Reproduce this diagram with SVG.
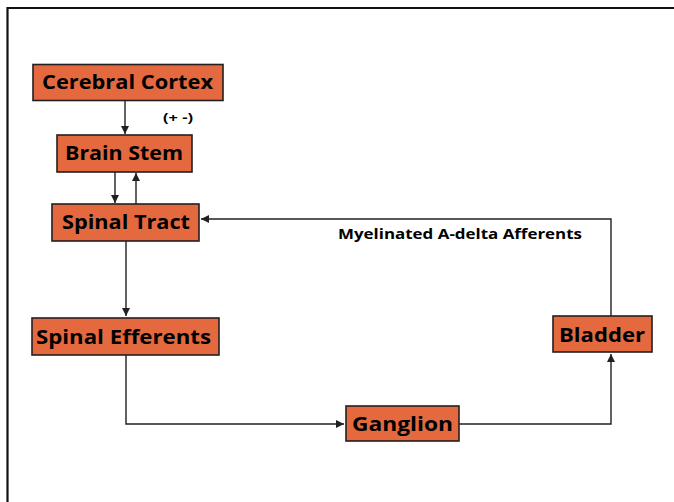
<svg xmlns="http://www.w3.org/2000/svg" width="674" height="502" viewBox="0 0 674 502">
<defs>
<style>
.box{fill:#E5693F;stroke:#231F20;stroke-width:1.6}
.lbl{font-family:"Open Sans","Noto Sans","Liberation Sans",sans-serif;font-weight:bold;fill:#000;font-size:20px}
.small{font-family:"Open Sans","Noto Sans","Liberation Sans",sans-serif;font-weight:bold;fill:#000}
.con{fill:none;stroke:#231F20;stroke-width:1.4}
</style>
<marker id="ah" viewBox="0 0 10 10" refX="10" refY="5" markerWidth="8" markerHeight="8" markerUnits="userSpaceOnUse" orient="auto">
<path d="M0,0 L10,5 L0,10 Z" fill="#231F20"/>
</marker>
</defs>
<rect width="674" height="502" fill="#fff"/>
<path d="M7.5,502 V8 H674" fill="none" stroke="#111" stroke-width="2.2"/>
<g id="connectors">
<path class="con" d="M125,100.5 V134" marker-end="url(#ah)"/>
<path class="con" d="M115,172 V203" marker-end="url(#ah)"/>
<path class="con" d="M136,204 V173" marker-end="url(#ah)"/>
<path class="con" d="M126,241 V316" marker-end="url(#ah)"/>
<path class="con" d="M126,355 V424 H344" marker-end="url(#ah)"/>
<path class="con" d="M459,424 H611 V354" marker-end="url(#ah)"/>
<path class="con" d="M611,316 V219 H201" marker-end="url(#ah)"/>
<text class="small" x="163" y="122" font-size="13" textLength="30" lengthAdjust="spacingAndGlyphs">(+ -)</text>
<text class="small" x="338" y="239" font-size="15" textLength="244" lengthAdjust="spacingAndGlyphs">Myelinated A-delta Afferents</text>
</g>
<g id="cerebral-cortex">
<rect class="box" x="33" y="64.5" width="190" height="36"/>
<text class="lbl" x="42" y="89" textLength="171" lengthAdjust="spacingAndGlyphs">Cerebral Cortex</text>
</g>
<g id="brain-stem">
<rect class="box" x="57" y="135" width="135" height="37"/>
<text class="lbl" x="65" y="160" textLength="118" lengthAdjust="spacingAndGlyphs">Brain Stem</text>
</g>
<g id="spinal-tract">
<rect class="box" x="52" y="204" width="147" height="37"/>
<text class="lbl" x="62" y="229" textLength="128" lengthAdjust="spacingAndGlyphs">Spinal Tract</text>
</g>
<g id="spinal-efferents">
<rect class="box" x="32" y="318" width="187" height="37"/>
<text class="lbl" x="36" y="344" textLength="175" lengthAdjust="spacingAndGlyphs">Spinal Efferents</text>
</g>
<g id="ganglion">
<rect class="box" x="346" y="406" width="113" height="35"/>
<text class="lbl" x="352" y="431" textLength="101" lengthAdjust="spacingAndGlyphs">Ganglion</text>
</g>
<g id="bladder">
<rect class="box" x="553" y="316" width="99" height="36"/>
<text class="lbl" x="559" y="342" textLength="86" lengthAdjust="spacingAndGlyphs">Bladder</text>
</g>
</svg>
